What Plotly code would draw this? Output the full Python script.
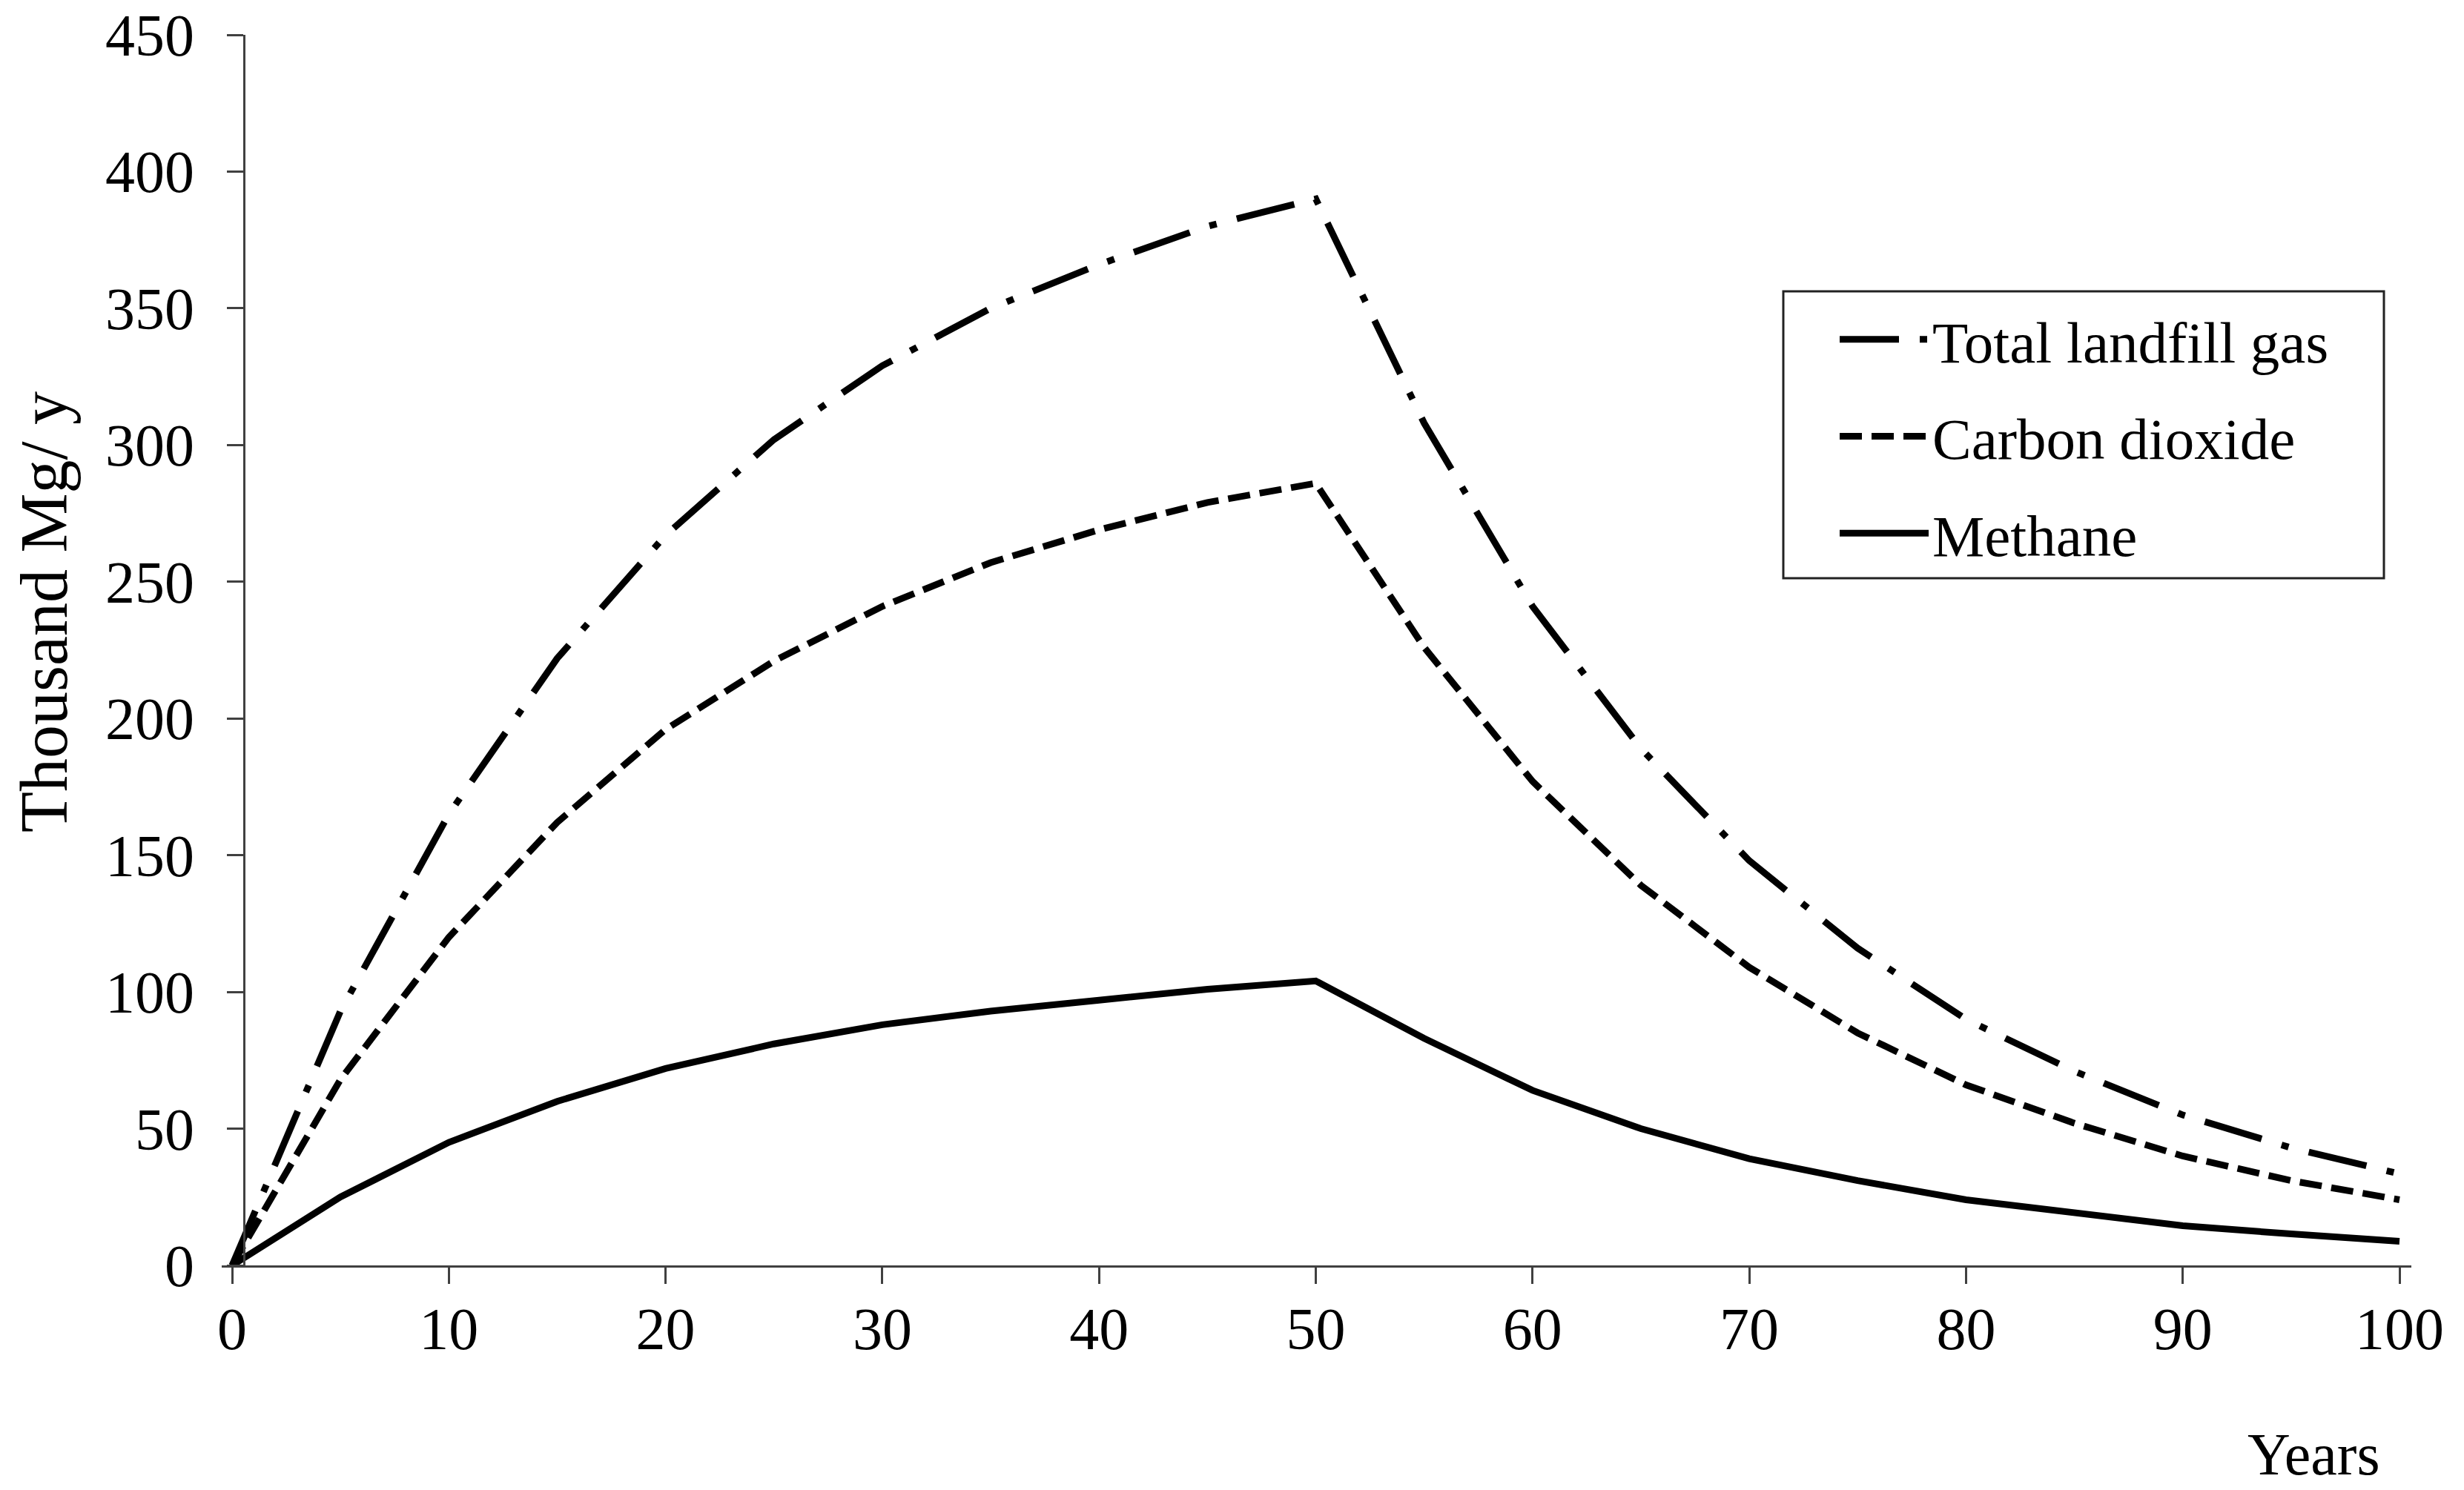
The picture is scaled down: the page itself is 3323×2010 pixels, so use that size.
import plotly.graph_objects as go

years = [0, 5, 10, 15, 20, 25, 30, 35, 40, 45, 50, 55, 60, 65, 70, 75, 80, 85, 90, 95, 100]
total_gas = [0, 93, 165, 222, 267, 302, 329, 350, 366, 380, 390, 308, 241, 189, 148, 116, 90, 71, 55, 43, 33.5]
carbon_dioxide = [0, 68, 120, 162, 196, 221, 241, 257, 269, 279, 286, 226, 177, 139, 109, 85, 66, 52, 40, 31, 24]
methane = [0, 25, 45, 60, 72, 81, 88, 93, 97, 101, 104, 83, 64, 50, 39, 31, 24, 19, 14.5, 11.5, 8.8]

x_ticks = [0, 10, 20, 30, 40, 50, 60, 70, 80, 90, 100]
y_ticks = [0, 50, 100, 150, 200, 250, 300, 350, 400, 450]

FONT = "Liberation Serif, Times New Roman, serif"
AXIS_COLOR = "#404040"

fig = go.Figure()
fig.add_trace(go.Scatter(
    x=years, y=total_gas, mode="lines", name="Total landfill gas", legendgroup="a",
    line=dict(color="black", width=9, dash="80px,28px,10px,28px")))
fig.add_trace(go.Scatter(
    x=years, y=carbon_dioxide, mode="lines", name="Carbon dioxide", legendgroup="b",
    line=dict(color="black", width=9, dash="30px,13px")))
fig.add_trace(go.Scatter(
    x=years, y=methane, mode="lines", name="Methane", legendgroup="c",
    line=dict(color="black", width=9)))

# body margin is removed by a post script, so page pixels = figure pixels
W, H = 3323, 2010
ml, mt = 299, 47
plot_right = 3252
plot_bottom = 1707
mr, mb = W - plot_right, H - plot_bottom
plot_w = plot_right - ml
plot_h = plot_bottom - mt
px_per_year = 29.23
x0_px = 313
xr0 = (ml - x0_px) / px_per_year
xr1 = xr0 + plot_w / px_per_year
yaxis_pos = (329 - ml) / plot_w


def px(xs):
    return (xs - ml) / plot_w


def py(ys):
    return (plot_bottom - ys) / plot_h


fig.update_layout(
    width=W, height=H,
    margin=dict(l=ml, r=mr, t=mt, b=mb, autoexpand=False),
    paper_bgcolor="white", plot_bgcolor="white",
    font=dict(family=FONT, size=80, color="black"),
    xaxis=dict(
        range=[xr0, xr1], tickvals=x_ticks, showgrid=False, zeroline=False,
        showline=True, linecolor=AXIS_COLOR, linewidth=3,
        ticks="outside", ticklen=22, tickwidth=3, tickcolor=AXIS_COLOR,
        tickfont=dict(family=FONT, size=80, color="black"),
        ticklabelstandoff=-8, ticklabeloverflow="allow",
    ),
    yaxis=dict(
        range=[0, 450], tickvals=y_ticks, showgrid=False, zeroline=False,
        anchor="free", position=yaxis_pos,
        showline=True, linecolor=AXIS_COLOR, linewidth=3,
        ticks="outside", ticklen=22, tickwidth=3, tickcolor=AXIS_COLOR,
        tickfont=dict(family=FONT, size=80, color="black"),
        ticklabelstandoff=28, ticklabeloverflow="allow",
    ),
    legend=dict(
        x=px(2476), y=py(400),
        xanchor="left", yanchor="top",
        borderwidth=0, bgcolor="rgba(0,0,0,0)",
        font=dict(family=FONT, size=79, color="black"),
        itemwidth=120, tracegroupgap=25,
    ),
    shapes=[dict(
        type="rect", xref="paper", yref="paper",
        x0=px(2405), x1=px(3215), y0=py(780), y1=py(393),
        line=dict(color="#222222", width=3), fillcolor="rgba(0,0,0,0)", layer="below",
    )],
    annotations=[
        dict(
            text="Years", xref="paper", yref="paper",
            x=px(3120), y=py(1962),
            xanchor="center", yanchor="middle", showarrow=False,
            font=dict(family=FONT, size=80, color="black"),
        ),
        dict(
            text="Thousand Mg/ y", xref="paper", yref="paper",
            x=px(59), y=py(826), textangle=-90,
            xanchor="center", yanchor="middle", showarrow=False,
            font=dict(family=FONT, size=90, color="black"),
        ),
    ],
)

fig.write_html("out.html", config={"displayModeBar": False},
               post_script="document.body.style.margin='0px';")
